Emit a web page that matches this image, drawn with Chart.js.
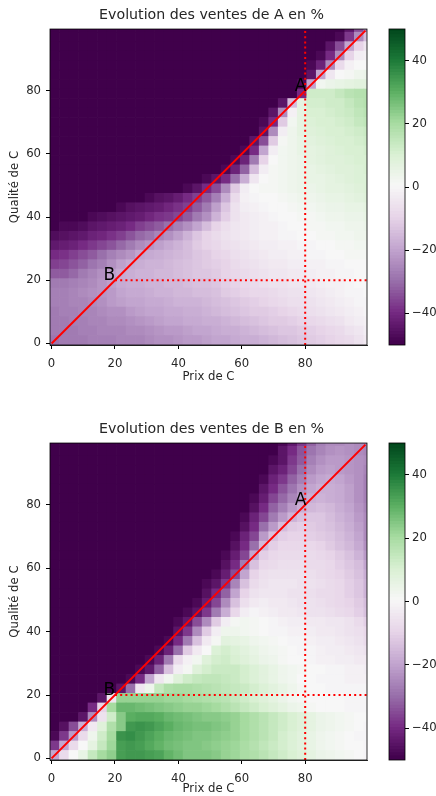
<!DOCTYPE html>
<html>
<head>
<meta charset="utf-8">
<script src="https://cdn.jsdelivr.net/npm/chart.js@4"></script>
<style>
html, body { margin: 0; background: #fff; overflow: hidden; }
canvas { position: absolute; }
</style>
</head>
<body>
<canvas id="heatA" width="417" height="386" style="left:0;top:0"></canvas>
<canvas id="barA" width="56" height="386" style="left:380px;top:0"></canvas>
<canvas id="heatB" width="417" height="382" style="left:0;top:414px"></canvas>
<canvas id="barB" width="56" height="382" style="left:380px;top:414px"></canvas>
<script>
// tick labels and text
const xTicks = [0, 20, 40, 60, 80];
const yTicks = [0, 20, 40, 60, 80];
const barTicks = [-40, -20, 0, 20, 40];
const xTitle = 'Prix de C';
const yTitle = 'Qualité de C';
const titleA = 'Evolution des ventes de A en %';
const titleB = 'Evolution des ventes de B en %';

// grid: one cell every 3 units, rows from y=100 down to y=1
const cellStep = 3;
const dark = -50;

// first number of a row = how many cells on the left are saturated (-50)
const rowsA = [
  [31,-45,-35,-25],
  [30,-48,-38,-25,-15],
  [29,-45,-35,-20,-10,-5],
  [28,-48,-40,-25,-10,-3,-2],
  [27,-48,-42,-25,-8,-2,0,0],
  [27,-45,-20,-5,0,1,3,4],
  [26,-48,-20,2,4,5,6,7,7],
  [26,-40,12,12,12,14,16,17,17],
  [24,-45,-15,6,11,11,12,12,14,16,17],
  [23,-45,-25,-2,6,10,10,11,12,13,15,16],
  [22,-48,-40,-12,2,6,9,10,10,11,12,14,15],
  [22,-45,-25,-3,3,6,8,9,10,10,11,12,13],
  [21,-45,-35,-12,1,3,5,7,8,9,10,10,11,12],
  [20,-48,-40,-20,-3,2,3,5,6,7,8,9,10,10,11],
  [19,-48,-42,-28,-10,0,2,3,4,6,7,8,8,9,10,10],
  [18,-48,-42,-32,-15,-3,1,2,3,4,5,6,7,8,8,9,10],
  [16,-48,-45,-40,-30,-18,-5,0,1,2,3,4,5,5,6,7,8,9,9],
  [14,-48,-45,-40,-35,-25,-12,-3,0,1,1,2,3,4,4,5,6,6,7,8,9],
  [10,-48,-46,-45,-43,-40,-37,-33,-27,-18,-8,-2,-1,0,0,1,2,3,3,4,5,5,6,7,8],
  [7,-48,-46,-45,-44,-43,-41,-39,-37,-33,-28,-21,-13,-6,-3,-2,-1,0,0,1,2,2,3,4,4,5,5,6],
  [4,-48,-47,-46,-45,-44,-43,-41,-39,-38,-36,-33,-28,-24,-17,-11,-6,-4,-3,-2,-1,0,0,1,1,2,3,3,4,4,5],
  [1,-48,-48,-47,-45,-44,-43,-42,-40,-37,-35,-33,-30,-27,-24,-20,-15,-10,-7,-5,-4,-3,-2,-2,-1,0,0,1,1,2,2,3,3,4],
  [0,-47,-46,-45,-44,-42,-41,-39,-37,-34,-31,-29,-26,-24,-21,-17,-13,-10,-8,-6,-5,-4,-3,-2,-2,-1,-1,0,0,1,1,2,2,3,3],
  [0,-44,-43,-42,-40,-38,-36,-34,-31,-28,-25,-23,-21,-19,-17,-15,-12,-10,-9,-7,-6,-5,-4,-3,-3,-2,-2,-1,-1,0,0,1,1,2,2],
  [0,-40,-39,-37,-35,-33,-30,-27,-25,-23,-20,-19,-18,-17,-16,-15,-13,-12,-10,-9,-7,-6,-5,-4,-3,-3,-2,-2,-1,-1,0,0,1,1,1],
  [0,-37,-36,-34,-32,-29,-27,-24,-21,-19,-18,-17,-17,-16,-15,-14,-13,-12,-11,-10,-8,-7,-6,-5,-4,-4,-3,-3,-2,-2,-1,-1,0,0,0],
  [0,-33,-33,-31,-28,-26,-24,-21,-19,-18,-17,-17,-16,-16,-15,-14,-13,-13,-12,-10,-9,-8,-7,-6,-5,-5,-4,-4,-3,-2,-2,-1,-1,0,0],
  [0,-28,-28,-27,-26,-25,-23,-21,-19,-18,-18,-17,-17,-16,-16,-15,-14,-14,-13,-11,-10,-9,-8,-7,-6,-6,-5,-5,-4,-3,-2,-2,-1,0,0],
  [0,-27,-27,-26,-25,-24,-23,-22,-20,-19,-19,-18,-17,-17,-16,-16,-15,-15,-14,-12,-11,-10,-9,-9,-8,-7,-6,-6,-5,-4,-3,-2,-1,-1,0],
  [0,-27,-27,-26,-26,-25,-24,-22,-21,-20,-20,-19,-19,-18,-17,-17,-17,-16,-15,-14,-13,-12,-11,-10,-9,-8,-7,-7,-6,-5,-4,-3,-2,-1,-1],
  [0,-28,-27,-27,-26,-26,-25,-24,-24,-22,-21,-20,-20,-19,-19,-18,-18,-17,-16,-15,-14,-13,-12,-12,-11,-10,-9,-8,-7,-6,-5,-4,-3,-2,-1],
  [0,-28,-28,-27,-27,-26,-26,-25,-25,-24,-23,-22,-21,-20,-20,-19,-19,-18,-18,-17,-16,-15,-14,-13,-12,-12,-11,-10,-9,-8,-7,-6,-4,-3,-2],
  [0,-28,-28,-28,-27,-27,-26,-26,-26,-25,-25,-24,-23,-22,-22,-21,-20,-20,-19,-18,-18,-17,-16,-15,-14,-13,-13,-12,-11,-10,-9,-8,-6,-5,-3],
  [0,-29,-28,-28,-28,-27,-27,-27,-26,-26,-26,-25,-24,-24,-23,-22,-22,-21,-20,-20,-19,-18,-18,-17,-16,-15,-14,-13,-12,-11,-10,-9,-8,-6,-4]
];

const rowsB = [
  [24,-48,-44,-38,-32,-27,-25,-25,-24,-25,-26],
  [24,-45,-40,-34,-29,-26,-24,-23,-24,-25,-26],
  [23,-48,-45,-38,-33,-27,-24,-22,-22,-23,-24,-25],
  [23,-45,-42,-36,-30,-25,-22,-21,-22,-23,-24,-26],
  [22,-48,-42,-38,-32,-27,-22,-20,-19,-20,-22,-24,-27],
  [22,-45,-40,-34,-29,-24,-20,-18,-18,-19,-21,-24,-27],
  [21,-48,-43,-36,-31,-26,-22,-18,-17,-18,-19,-21,-24,-27],
  [21,-46,-40,-32,-27,-22,-18,-16,-15,-16,-18,-20,-23,-26],
  [20,-48,-42,-36,-28,-22,-17,-14,-13,-13,-15,-17,-19,-22,-25],
  [20,-46,-40,-30,-22,-15,-12,-11,-12,-13,-14,-16,-18,-21,-25],
  [19,-48,-42,-36,-22,-14,-11,-10,-10,-11,-12,-13,-15,-17,-20,-25],
  [19,-46,-40,-30,-16,-11,-9,-9,-9,-9,-10,-12,-14,-16,-19,-24],
  [18,-48,-43,-36,-20,-11,-9,-8,-8,-8,-8,-9,-10,-12,-14,-17,-22],
  [18,-46,-40,-28,-14,-9,-8,-7,-7,-7,-8,-8,-9,-11,-13,-15,-20],
  [17,-48,-43,-35,-20,-10,-7,-6,-6,-6,-6,-7,-8,-9,-10,-12,-14,-18],
  [16,-48,-45,-38,-26,-14,-8,-6,-5,-5,-5,-6,-6,-7,-8,-9,-11,-13,-17],
  [16,-46,-40,-32,-20,-10,-6,-5,-5,-5,-6,-6,-7,-8,-8,-9,-11,-13,-17],
  [15,-48,-43,-36,-25,-14,-7,-4,-3,-4,-4,-5,-6,-6,-7,-8,-9,-10,-12,-15],
  [14,-48,-45,-38,-28,-18,-9,-3,-1,-2,-3,-4,-4,-5,-6,-6,-7,-8,-9,-11,-14],
  [13,-48,-44,-35,-25,-12,-3,1,2,1,0,-1,-2,-3,-3,-4,-4,-5,-5,-6,-8,-11],
  [13,-45,-38,-25,-12,-3,3,3,2,1,0,-1,-1,-2,-2,-3,-4,-4,-5,-6,-7,-9],
  [12,-48,-40,-28,-14,-4,1,7,6,5,3,2,1,0,-1,-1,-2,-3,-3,-4,-5,-6,-8],
  [11,-48,-42,-30,-12,-4,0,9,11,9,7,5,3,2,1,0,-1,-1,-2,-3,-3,-4,-5,-6],
  [10,-48,-42,-28,-8,-2,2,8,11,12,10,8,6,4,3,1,0,0,-1,-2,-2,-3,-3,-4,-4],
  [9,-48,-44,-32,-14,-3,1,8,11,13,13,13,11,9,7,5,3,2,1,0,0,-1,-1,-2,-2,-3],
  [8,-48,-40,-20,-5,2,8,12,14,15,15,14,13,11,9,7,5,3,2,0,0,-1,-1,-1,-2,-2,-2],
  [7,-45,-30,-5,3,14,18,19,19,18,17,16,15,14,13,11,9,7,5,3,1,0,0,-1,-1,-1,-1,-1],
  [5,-45,-5,22,22,22,22,22,21,21,20,19,18,17,16,14,12,10,8,6,4,2,1,0,0,0,0,-1,-1,-1],
  [4,-40,-10,20,28,28,27,26,25,24,23,22,22,21,20,18,16,14,12,10,8,6,4,3,1,0,0,0,-1,-1,-1],
  [3,-45,-25,-6,12,24,30,31,31,30,28,27,26,25,24,24,23,22,20,18,16,14,12,10,8,6,4,3,2,1,0,0],
  [1,-46,-35,-18,-4,8,18,24,34,35,34,32,30,28,27,26,26,25,24,22,20,18,16,14,12,10,8,6,4,3,2,1,0,-1],
  [0,-48,-38,-22,-8,3,12,20,35,36,34,32,30,28,27,26,25,25,24,23,22,20,18,16,14,11,9,7,5,3,2,1,0,-1,-1],
  [0,-38,-20,-8,0,6,14,21,33,34,33,31,29,27,26,25,25,24,23,22,21,19,17,15,13,11,9,7,5,3,2,1,0,0,-1],
  [0,-20,-8,0,5,14,20,23,33,34,34,33,32,29,27,25,25,25,24,22,21,19,18,16,14,12,10,8,6,4,3,2,1,0,-1]
];

// colorbar levels, one band per unit
const barLevels = [];
for (let v = -50; v < 50; v++) barLevels.push(v);

// PRGn colormap
const cmapStops = ['#40004b','#762a83','#9970ab','#c2a5cf','#e7d4e8','#f7f7f7','#d9f0d3','#a6dba0','#5aae61','#1b7837','#00441b'];

// red guides and letters
const diagonalLine = [{ x: 0, y: 0 }, { x: 99, y: 99 }];
const verticalLine = [{ x: 80, y: -0.5 }, { x: 80, y: 99.5 }];
const horizontalLine = [{ x: 20, y: 20 }, { x: 99.5, y: 20 }];
const markLabels = ['A', 'B'];
const markX = [76.7, 16.4];
const markY = [80, 20];

const textColor = '#262626';
const tickFont = { family: 'DejaVu Sans', size: 11.7 };

function hexToRgb(hex) {
    return [1, 3, 5].map(i => parseInt(hex.slice(i, i + 2), 16));
}

function colorFor(value) {
    const t = Math.min(Math.max((value + 50) / 10, 0), 10);
    const i = Math.min(Math.floor(t), 9);
    const a = hexToRgb(cmapStops[i]);
    const b = hexToRgb(cmapStops[i + 1]);
    const f = t - i;
    return `rgb(${a.map((c, k) => Math.round(c + (b[k] - c) * f)).join(',')})`;
}

function rowsToCells(rows) {
    const cells = [];
    rows.forEach((row, r) => {
        const y = (rows.length - 1 - r) * cellStep + 1;
        const values = new Array(row[0]).fill(dark).concat(row.slice(1));
        values.forEach((v, c) => cells.push({ x: c * cellStep + 1, y: y, v: v }));
    });
    return cells;
}

const decorations = {
    id: 'decorations',
    afterDatasetsDraw(chart) {
        const { ctx, chartArea, scales } = chart;
        if (scales.x.type === 'linear') {
            ctx.save();
            ctx.font = '17px "DejaVu Sans"';
            ctx.fillStyle = '#000';
            ctx.textBaseline = 'alphabetic';
            markLabels.forEach((t, i) => {
                ctx.fillText(t, scales.x.getPixelForValue(markX[i]), scales.y.getPixelForValue(markY[i]));
            });
            ctx.restore();
        }
        ctx.save();
        ctx.strokeStyle = '#000';
        ctx.lineWidth = 0.8;
        ctx.strokeRect(chartArea.left, chartArea.top, chartArea.width, chartArea.height);
        ctx.restore();
    }
};

function guide(data, dashed) {
    return {
        type: 'scatter',
        data: data,
        showLine: true,
        borderColor: '#ff0000',
        borderWidth: 2,
        borderDash: dashed ? [2, 3.2] : [],
        pointRadius: 0,
        clip: 0
    };
}

function axisTicks(values) {
    return scale => { scale.ticks = values.map(v => ({ value: v })); };
}

function drawHeatmap(id, rows, title, xHeight, xTitlePad) {
    new Chart(document.getElementById(id), {
        type: 'scatter',
        data: {
            datasets: [
                guide(diagonalLine, false),
                guide(verticalLine, true),
                guide(horizontalLine, true),
                {
                    data: rowsToCells(rows),
                    pointStyle: 'rect',
                    backgroundColor: ctx => colorFor(ctx.raw ? ctx.raw.v : 0),
                    borderWidth: 0,
                    pointRadius: ctx => (ctx.chart.scales.x.width / 100 * cellStep + 0.7) * Math.SQRT1_2,
                    clip: 0
                }
            ]
        },
        plugins: [decorations],
        options: {
            responsive: false,
            animation: false,
            layout: { padding: { left: 6 } },
            plugins: {
                legend: { display: false },
                tooltip: { enabled: false },
                title: {
                    display: true,
                    text: title,
                    color: textColor,
                    font: { family: 'DejaVu Sans', size: 14.2, weight: 'normal' },
                    padding: { top: 7, bottom: 5 }
                }
            },
            scales: {
                x: {
                    type: 'linear',
                    min: -0.5,
                    max: 99.5,
                    afterBuildTicks: axisTicks(xTicks),
                    afterFit: scale => { scale.height = xHeight; },
                    grid: { drawOnChartArea: false, tickLength: 4, tickColor: '#000' },
                    border: { color: '#000', width: 0.8 },
                    ticks: { color: textColor, font: tickFont, maxRotation: 0, padding: 8 },
                    title: { display: true, text: xTitle, color: textColor, font: tickFont, padding: xTitlePad }
                },
                y: {
                    type: 'linear',
                    min: -0.5,
                    max: 99.5,
                    afterBuildTicks: axisTicks(yTicks),
                    afterFit: scale => { scale.width = 44; },
                    grid: { drawOnChartArea: false, tickLength: 4, tickColor: '#000' },
                    border: { color: '#000', width: 0.8 },
                    ticks: { color: textColor, font: tickFont, padding: 5 },
                    title: { display: true, text: yTitle, color: textColor, font: tickFont, padding: 2 }
                },
                // empty right axis, keeps the title centred over the plot
                spacer: {
                    type: 'linear',
                    position: 'right',
                    afterFit: scale => { scale.width = 50; },
                    grid: { display: false },
                    border: { display: false },
                    ticks: { display: false }
                }
            }
        }
    });
}

function drawColorbar(id, bottomPad) {
    new Chart(document.getElementById(id), {
        type: 'bar',
        data: {
            labels: ['niveau'],
            datasets: barLevels.map(v => ({
                data: [[v, v + 1.3]],
                backgroundColor: colorFor(v + 0.5),
                grouped: false,
                barPercentage: 1,
                categoryPercentage: 1
            }))
        },
        plugins: [decorations],
        options: {
            responsive: false,
            animation: false,
            layout: { padding: { top: 29, bottom: bottomPad, left: 9 } },
            plugins: { legend: { display: false }, tooltip: { enabled: false } },
            scales: {
                x: { display: false },
                y: {
                    position: 'right',
                    min: -50,
                    max: 50,
                    afterBuildTicks: axisTicks(barTicks),
                    afterFit: scale => { scale.width = 31; },
                    grid: { drawOnChartArea: false, tickLength: 4, tickColor: '#000' },
                    border: { display: false },
                    ticks: {
                        color: textColor,
                        font: tickFont,
                        padding: 3,
                        callback: v => String(v).replace('-', '\u2212')
                    }
                }
            }
        }
    });
}

drawHeatmap('heatA', rowsA, titleA, 41, 2);
drawColorbar('barA', 41);
drawHeatmap('heatB', rowsB, titleB, 36, 0);
drawColorbar('barB', 36);
</script>
</body>
</html>
